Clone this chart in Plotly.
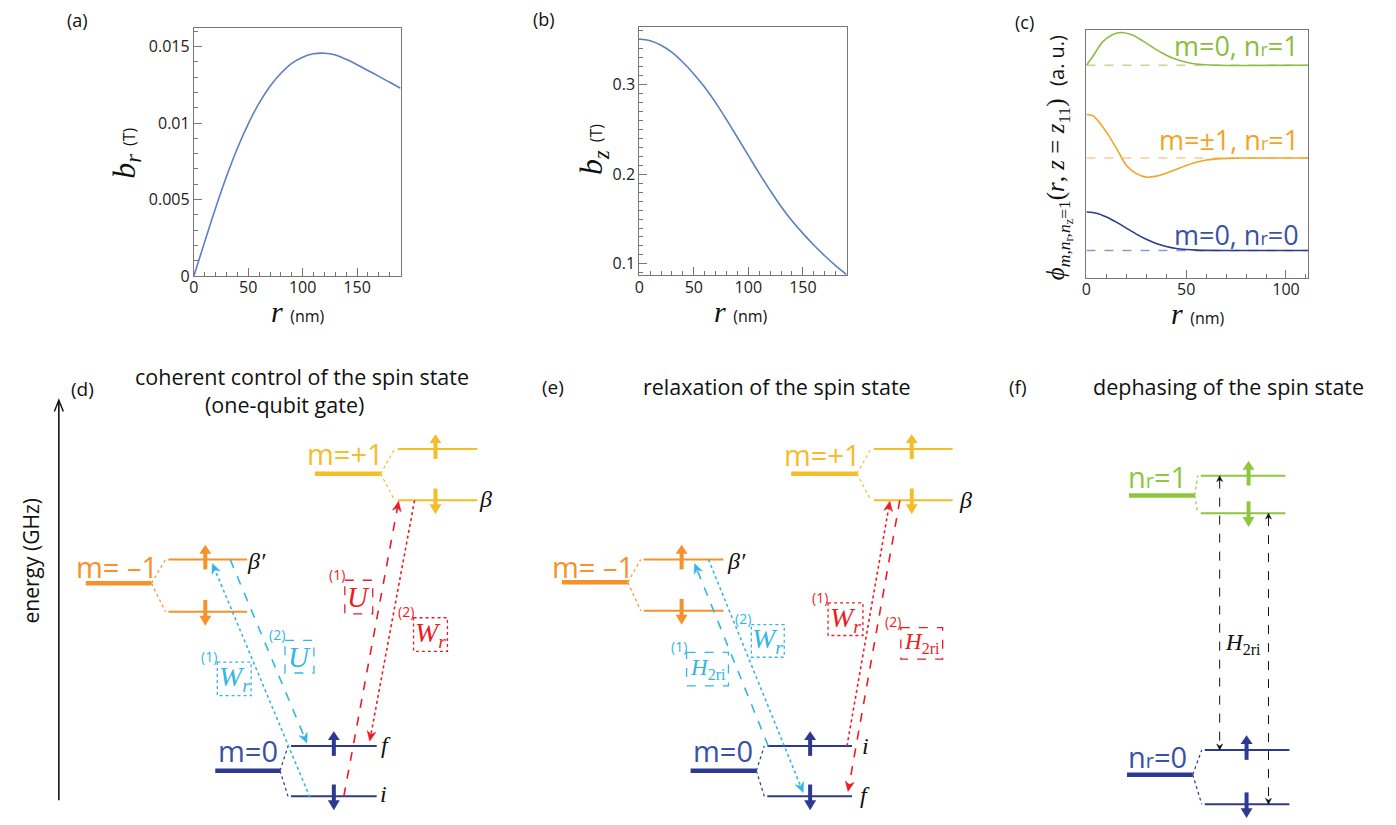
import math
import plotly.graph_objects as go

W, H = 1396, 825

# ---------------- (a) radial field b_r(r)  [r in nm, b_r in T]
r_a = [0, 10, 20, 30, 40, 50, 60, 70, 80, 90, 100, 110, 120, 130, 140, 150, 160, 170, 180, 190]
b_r = [0, 0.00225, 0.00445, 0.00650, 0.00835, 0.00995, 0.01130, 0.01240, 0.01325, 0.01390,
       0.01430, 0.01452, 0.01456, 0.01445, 0.01416, 0.01381, 0.01343, 0.01305, 0.01266, 0.01227]

# ---------------- (b) axial field b_z(r)
r_b = [0, 10, 20, 30, 40, 50, 60, 70, 80, 90, 100, 110, 120, 130, 140, 150, 160, 170, 180, 190]
b_z = [0.351, 0.349, 0.344, 0.336, 0.325, 0.312, 0.297, 0.280, 0.261, 0.241,
       0.221, 0.201, 0.182, 0.164, 0.148, 0.134, 0.121, 0.109, 0.098, 0.088]

# ---------------- (c) radial wave functions (offsets above their own baselines, a.u.)
r_c00 = [0, 5, 10, 15, 20, 25, 30, 35, 40, 45, 50, 55, 60, 70, 111]
phi_00 = [0.155, 0.150, 0.135, 0.114, 0.090, 0.066, 0.045, 0.028, 0.016, 0.008, 0.004, 0.0015, 0.0005, 0, 0]
r_c11 = [0, 3, 5, 10, 15, 20, 25, 30, 35, 40, 45, 50, 55, 60, 65, 70, 80, 111]
phi_11 = [0.175, 0.171, 0.157, 0.104, 0.040, -0.030, -0.063, -0.077, -0.073, -0.061, -0.046,
          -0.030, -0.017, -0.008, -0.004, -0.0015, 0, 0]
r_c01 = [0, 3, 8, 13, 17.6, 23, 28, 33, 38, 43, 48, 53, 58, 65, 111]
phi_01 = [0, 0.033, 0.093, 0.123, 0.132, 0.122, 0.099, 0.073, 0.049, 0.029, 0.016, 0.007, 0.003, 0, 0]
c_base = [0.112, 0.484, 0.857]          # baselines: m=0 nr=0, m=±1 nr=1, m=0 nr=1
c_labels = ["m=0, n<span style='font-size:18px'>r</span>=0",
            "m=\u00b11, n<span style='font-size:18px'>r</span>=1",
            "m=0, n<span style='font-size:18px'>r</span>=1"]

# ---------------- colours
YEL = "#F4BD29"
ORG = "#F6912C"
NAVY = "#2C3A92"
NAVY_T = "#3A52A4"
GRN = "#8DC63F"
CYAN = "#35B5E6"
RED = "#EC1C24"
CURVE = "#5B80BF"
FRAME = "#777777"
C_COL = [NAVY, "#F2A427", "#8CBD3E"]
C_DASH = ["#8F97CC", "#F6CD92", "#BCDB92"]
C_TXT = [NAVY_T, "#F2A427", "#8CBD3E"]

SANS = "Open Sans"
SERIF = "Liberation Serif"

# ---------------- energy-level diagrams (d), (e), (f)   [diagram units = px]
LV_TEXT = ["m=+1", "m= \u20131", "m=0", "m=+1", "m= \u20131", "m=0",
           "n<span style='font-size:20px'>r</span>=1", "n<span style='font-size:20px'>r</span>=0"]
LV_COLOR = [YEL, ORG, NAVY, YEL, ORG, NAVY, GRN, NAVY]
LV_TCOLOR = [YEL, ORG, NAVY_T, YEL, ORG, NAVY_T, GRN, NAVY_T]
LV_BASE_X0 = [303, 73, 203, 781, 551, 680, 1120, 1118]
LV_BASE_X1 = [369, 139, 268, 847, 617, 746, 1186, 1184]
LV_BASE_Y = [472, 583, 773, 472, 582, 773, 494, 777]
LV_SPLIT_X0 = [386, 156, 279, 864, 633, 757, 1192, 1196]
LV_SPLIT_X1 = [466, 235, 365, 943, 713, 842, 1277, 1281]
LV_UP_Y = [447, 559, 748, 447, 559, 748, 474, 752]
LV_DN_Y = [499, 612, 799, 499, 611, 799, 512, 807]
LV_SPIN_X = [424, 193, 322, 902, 671, 800, 1240, 1238]
LV_LABEL_X = [334, 104.5, 235.5, 812, 582, 713, 1148.5, 1148.5]
LV_LABEL_Y = [452, 566, 752.5, 452.5, 566, 752.5, 475, 759]

# state labels
ST_TEXT = ["\u03b2", "\u03b2\u2032", "f", "i", "\u03b2", "\u03b2\u2032", "i", "f"]
ST_X = [474, 244, 374, 372, 956, 726, 856, 855]
ST_Y = [498, 560, 747, 797, 499, 560, 748, 798]

# transitions (start -> arrow tip)
TR_X0 = [218, 298, 332, 403, 758, 698, 837, 890]
TR_Y0 = [559, 800, 799, 499, 748, 559, 748, 499]
TR_X1 = [295, 200, 387, 358, 684, 793, 880, 838]
TR_Y1 = [745, 563, 500, 743, 563, 795, 500, 794]
TR_COLOR = [CYAN, CYAN, RED, RED, CYAN, CYAN, RED, RED]
TR_DASH = ["dash", "dot", "dash", "dot", "dash", "dot", "dot", "dash"]

# labelled boxes on the transitions
BX_X0 = [333, 402, 273, 205, 818, 891, 741, 676]
BX_X1 = [361, 436, 302, 239, 853, 933, 774, 718]
BX_Y0 = [580, 618, 641, 663, 603, 628, 625, 653]
BX_Y1 = [614, 652, 674, 697, 636, 660, 658, 687]
BX_COLOR = [RED, RED, CYAN, CYAN, RED, RED, CYAN, CYAN]
BX_DASH = ["dash", "dot", "dash", "dot", "dot", "dash", "dot", "dash"]
BX_TEXT = ["U", "W", "U", "W", "W", "H", "W", "H"]
BX_STEP = ["(1)", "(2)", "(2)", "(1)", "(1)", "(2)", "(2)", "(1)"]

# (f) dephasing double arrows
DA_X = [1211, 1260]
DA_Y0 = [474, 512]
DA_Y1 = [752, 807]


def dx(x0, x1):
    return [x0 / W, x1 / W]


def dy(y0, y1):
    return [1 - y1 / H, 1 - y0 / H]


fig = go.Figure()

line_kw = dict(shape="spline", smoothing=1.0)
fig.add_trace(go.Scatter(x=r_a, y=b_r, mode="lines", line=dict(color=CURVE, width=1.6, **line_kw),
                         xaxis="x", yaxis="y", showlegend=False, hoverinfo="skip"))
fig.add_trace(go.Scatter(x=r_b, y=b_z, mode="lines", line=dict(color=CURVE, width=1.6, **line_kw),
                         xaxis="x2", yaxis="y2", showlegend=False, hoverinfo="skip"))
R_MAX_C = 111.2
for rr, ph, k in [(r_c00, phi_00, 0), (r_c11, phi_11, 1), (r_c01, phi_01, 2)]:
    fig.add_trace(go.Scatter(x=[0, R_MAX_C], y=[c_base[k], c_base[k]], mode="lines",
                             line=dict(color=C_DASH[k], width=1.3, dash="dash"),
                             xaxis="x3", yaxis="y3", showlegend=False, hoverinfo="skip"))
    fig.add_trace(go.Scatter(x=rr, y=[c_base[k] + v for v in ph], mode="lines",
                             line=dict(color=C_COL[k], width=1.6, shape="spline", smoothing=0.8),
                             xaxis="x3", yaxis="y3", showlegend=False, hoverinfo="skip"))


def frame_axis(**kw):
    d = dict(showline=True, linecolor=FRAME, linewidth=1, mirror=True, ticks="inside",
             tickcolor=FRAME, ticklen=8, tickwidth=1, showgrid=False, zeroline=False,
             tickfont=dict(family=SANS, size=16, color="#222"), fixedrange=True)
    d.update(kw)
    return d


minor_x = dict(ticks="inside", ticklen=4, dtick=10, tickcolor=FRAME)
fig.update_layout(
    xaxis=frame_axis(domain=dx(181.5, 389), range=[0, 190], tickvals=[0, 50, 100, 150],
                     minor=minor_x, anchor="y", ticklabelstandoff=-3),
    yaxis=frame_axis(domain=dy(20, 271.7), range=[0, 0.016225], tickvals=[0, 0.005, 0.01, 0.015],
                     ticktext=["0", "0.005", "0.01", "0.015"],
                     minor=dict(ticks="inside", ticklen=4, dtick=0.001, tickcolor=FRAME), anchor="x"),
    xaxis2=frame_axis(domain=dx(628.5, 836.5), range=[0, 190], tickvals=[0, 50, 100, 150],
                      minor=minor_x, anchor="y2", ticklabelstandoff=-3),
    yaxis2=frame_axis(domain=dy(19.5, 271), range=[0.0871, 0.3641], tickvals=[0.1, 0.2, 0.3],
                      ticktext=["0.1", "0.2", "0.3"],
                      minor=dict(ticks="inside", ticklen=4, dtick=0.01, tickcolor=FRAME), anchor="x2"),
    xaxis3=frame_axis(domain=dx(1077.3, 1300), range=[0, R_MAX_C], tickvals=[0, 50, 100],
                      minor=minor_x, anchor="y3", ticklabelstandoff=-4),
    yaxis3=frame_axis(domain=dy(22, 274), range=[0, 1], ticks="", showticklabels=False, anchor="x3"),
    xaxis4=dict(domain=[0, 1], range=[0, W], visible=False, fixedrange=True, anchor="y4"),
    yaxis4=dict(domain=[0, 1], range=[H, 0], visible=False, fixedrange=True, anchor="x4"),
)

shapes = []
ann = []


def text(x, y, s, size, color="#111", family=SANS, **kw):
    d = dict(x=x, y=y, xref="x4", yref="y4", text=s, showarrow=False,
             font=dict(family=family, size=size, color=color), xanchor="center", yanchor="middle")
    d.update(kw)
    ann.append(d)


def seg(x0, y0, x1, y1, color, width=1.5, dash="solid"):
    shapes.append(dict(type="line", xref="x4", yref="y4", x0=x0, y0=y0, x1=x1, y1=y1,
                       line=dict(color=color, width=width, dash=dash)))


def head(x0, y0, x1, y1, color, L=10, hw=4.5, notch=3):
    d = math.hypot(x1 - x0, y1 - y0)
    ux, uy = (x1 - x0) / d, (y1 - y0) / d
    nx, ny = -uy, ux
    bx, by = x1 - L * ux, y1 - L * uy
    mx, my = x1 - (L - notch) * ux, y1 - (L - notch) * uy
    path = (f"M {x1:.2f} {y1:.2f} L {bx + hw * nx:.2f} {by + hw * ny:.2f} L {mx:.2f} {my:.2f} "
            f"L {bx - hw * nx:.2f} {by - hw * ny:.2f} Z")
    shapes.append(dict(type="path", xref="x4", yref="y4", path=path, fillcolor=color,
                       line=dict(color=color, width=0.5)))
    return mx, my


# ---- top-panel text
text(65, 12, "(a)", 18)
text(532.5, 11, "(b)", 18)
text(1015, 14, "(c)", 18)
text(113, 147, "<i>b</i><sub><i>r</i></sub> <span style='font-family:Open Sans;font-size:16px;font-style:normal'>(T)</span>",
     32, family=SERIF, textangle=-90)
text(582, 143, "<i>b</i><sub><i>z</i></sub> <span style='font-family:Open Sans;font-size:16px;font-style:normal'>(T)</span>",
     32, family=SERIF, textangle=-90)
for cx, cy in [(286, 308), (731, 308), (1189, 310)]:
    text(cx, cy, "<i>r</i> <span style='font-family:Open Sans;font-size:16px'>(nm)</span>", 30, family=SERIF)
text(1050, 152,
     "<i>\u03d5</i><sub><i>m</i>,<i>n</i><sub>r</sub>,<i>n</i><sub>z</sub>=1</sub>(<i>r</i>, <i>z</i> = <i>z</i><sub>11</sub>)"
     "  <span style='font-family:Open Sans;font-size:20px'>(a. u.)</span>",
     25, family=SERIF, textangle=-90)
for k, ty in zip([2, 1, 0], [37.7, 133.3, 230]):
    text(1293, ty, c_labels[k], 27, color=C_TXT[k], xanchor="right")

# ---- bottom titles
text(70, 386, "(d)", 19)
text(290.5, 373, "coherent control of the spin state", 21.5)
text(272.5, 402, "(one-qubit gate)", 21.5)
text(541.7, 384, "(e)", 19)
text(766.7, 384, "relaxation of the spin state", 21.5)
text(1008.3, 384, "(f)", 19)
text(1220.3, 384, "dephasing of the spin state", 21.5)

# energy axis
seg(46, 803, 46, 399, "#111", 1.6)
shapes.append(dict(type="path", xref="x4", yref="y4", path="M 41.5 409 L 46 397.5 L 50.5 409",
                   line=dict(color="#111", width=1.4)))
text(18, 560, "energy (GHz)", 21, textangle=-90)

# ---- energy levels
for k in range(len(LV_TEXT)):
    col = LV_COLOR[k]
    seg(LV_BASE_X0[k], LV_BASE_Y[k], LV_BASE_X1[k], LV_BASE_Y[k], col, 4.5)
    for yy in (LV_UP_Y[k], LV_DN_Y[k]):
        seg(LV_BASE_X1[k], LV_BASE_Y[k], LV_SPLIT_X0[k] - 3, yy, col, 1.2, "dot")
        seg(LV_SPLIT_X0[k], yy, LV_SPLIT_X1[k], yy, col, 2)
    sx = LV_SPIN_X[k]
    # spin up
    yl = LV_UP_Y[k]
    seg(sx, yl + 10, sx, yl - 7, col, 4)
    shapes.append(dict(type="path", xref="x4", yref="y4",
                       path=f"M {sx} {yl - 15} L {sx - 6} {yl - 6} L {sx + 6} {yl - 6} Z",
                       fillcolor=col, line=dict(width=0)))
    # spin down
    yl = LV_DN_Y[k]
    seg(sx, yl - 12, sx, yl + 5, col, 4)
    shapes.append(dict(type="path", xref="x4", yref="y4",
                       path=f"M {sx} {yl + 14} L {sx - 6} {yl + 4} L {sx + 6} {yl + 4} Z",
                       fillcolor=col, line=dict(width=0)))
    text(LV_LABEL_X[k], LV_LABEL_Y[k], LV_TEXT[k], 29, color=LV_TCOLOR[k])

for k in range(len(ST_TEXT)):
    text(ST_X[k], ST_Y[k], "<i>" + ST_TEXT[k] + "</i>", 24, family=SERIF)

# ---- transitions
for k in range(len(TR_X0)):
    mx, my = head(TR_X0[k], TR_Y0[k], TR_X1[k], TR_Y1[k], TR_COLOR[k])
    seg(TR_X0[k], TR_Y0[k], mx, my, TR_COLOR[k], 1.6, TR_DASH[k])

# ---- boxes
BOX_LABEL = {"U": ("<i>U</i>", 29), "W": ("<i>W</i><sub><i>r</i></sub>", 28),
             "H": ("<i>H</i><sub>2ri</sub>", 23)}
for k in range(len(BX_X0)):
    shapes.append(dict(type="rect", xref="x4", yref="y4", x0=BX_X0[k], x1=BX_X1[k],
                       y0=BX_Y0[k], y1=BX_Y1[k],
                       line=dict(color=BX_COLOR[k], width=1.3, dash=BX_DASH[k])))
    s, fs = BOX_LABEL[BX_TEXT[k]]
    text((BX_X0[k] + BX_X1[k]) / 2, (BX_Y0[k] + BX_Y1[k]) / 2, s, fs, color=BX_COLOR[k], family=SERIF)
    text(BX_X0[k] - 8, BX_Y0[k] - 6, BX_STEP[k], 14, color=BX_COLOR[k])

# ---- (f) dephasing arrows
for k in range(len(DA_X)):
    x = DA_X[k]
    ta, tb = DA_Y0[k], DA_Y1[k]
    head(x, tb, x, ta, "#111", L=6, hw=3, notch=2)
    head(x, ta, x, tb, "#111", L=6, hw=3, notch=2)
    seg(x, ta + 4, x, tb - 4, "#111", 1, "dash")
text(1234, 645, "<i>H</i><sub>2ri</sub>", 23, family=SERIF)

fig.update_layout(shapes=shapes, annotations=ann, width=W, height=H, autosize=False,
                  margin=dict(l=0, r=0, t=0, b=0), paper_bgcolor="white",
                  plot_bgcolor="rgba(0,0,0,0)", showlegend=False)
fig.write_html("out.html")
